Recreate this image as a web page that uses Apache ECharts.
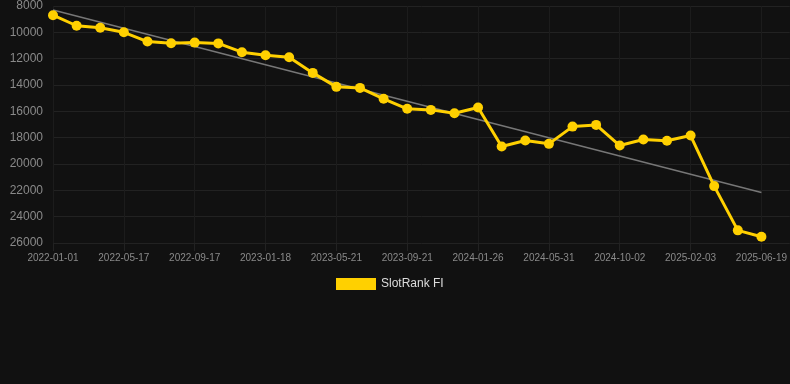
<!DOCTYPE html>
<html>
<head>
<meta charset="utf-8">
<script src="https://cdn.jsdelivr.net/npm/echarts@6/dist/echarts.min.js"></script>
<style>html,body{margin:0;padding:0;background:#111111;}#c{width:790px;height:384px;}</style>
</head>
<body>
<div id="c"></div>
<script>
var dates = ['2022-01-01','2022-02-15','2022-04-01','2022-05-17','2022-06-27','2022-08-07','2022-09-17','2022-10-28','2022-12-08','2023-01-18','2023-02-28','2023-04-10','2023-05-21','2023-07-01','2023-08-11','2023-09-21','2023-11-02','2023-12-14','2024-01-26','2024-03-07','2024-04-19','2024-05-31','2024-07-11','2024-08-21','2024-10-02','2024-11-12','2024-12-23','2025-02-03','2025-03-19','2025-05-04','2025-06-19'];
var rankValues = [8700,9500,9650,10000,10700,10830,10780,10840,11510,11740,11890,13080,14140,14220,15050,15810,15890,16140,15710,18670,18220,18470,17160,17030,18600,18140,18240,17840,21680,25040,25520];
var trendStart = 8300;
var trendEnd = 22160;
var seriesName = 'SlotRank FI';

var mainData = rankValues.map(function(v, i){ return [i, v]; });
var trendData = [[0, trendStart], [rankValues.length - 1, trendEnd]];

var chart = echarts.init(document.getElementById('c'));
var font = 'Arial, "Liberation Sans", sans-serif';
chart.setOption({
  backgroundColor: '#111111',
  animation: false,
  grid: {left: 53, right: 0, top: 6, bottom: 141, containLabel: false},
  legend: {
    data: [seriesName],
    left: 331, top: 273,
    itemWidth: 40, itemHeight: 12, icon: 'rect',
    textStyle: {color: '#dddddd', fontSize: 12, fontFamily: font}
  },
  xAxis: {
    type: 'value', min: 0, max: 31.2, interval: 3,
    axisLine: {show: false},
    axisTick: {show: true, length: 8, lineStyle: {color: '#222222'}},
    splitLine: {show: true, lineStyle: {color: '#1c1c1c', width: 1}},
    axisLabel: {
      color: '#8a8a8a', fontSize: 10, fontFamily: font, margin: 10,
      showMaxLabel: false,
      formatter: function(v){ return dates[v] !== undefined && Math.abs(v - Math.round(v)) < 1e-6 ? dates[v] : ''; }
    }
  },
  yAxis: {
    type: 'value', inverse: true, min: 8000, max: 26000, interval: 2000,
    axisLine: {show: false}, axisTick: {show: false},
    splitLine: {show: true, lineStyle: {color: '#222222', width: 1}},
    axisLabel: {color: '#8a8a8a', fontSize: 12, fontFamily: font, margin: 10,
      formatter: function(v){ return String(v); }}
  },
  series: [
    {
      name: 'trend', type: 'line', data: trendData, symbol: 'none', z: 1,
      lineStyle: {color: '#777777', width: 1.5}, silent: true
    },
    {
      name: seriesName, type: 'line', data: mainData, z: 2,
      symbol: 'circle', symbolSize: 10,
      itemStyle: {color: '#ffd000'},
      lineStyle: {color: '#ffd000', width: 3}
    }
  ]
});
</script>
</body>
</html>
